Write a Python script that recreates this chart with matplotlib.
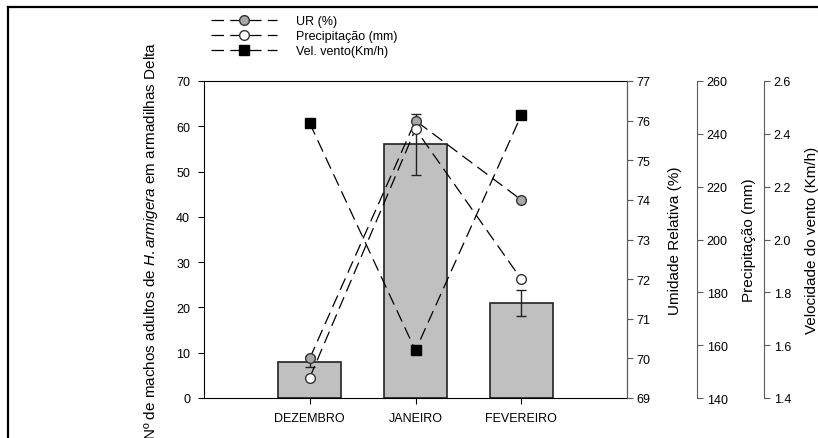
import matplotlib
matplotlib.use("Agg")
import matplotlib.pyplot as plt
from matplotlib.lines import Line2D
import numpy as np

plt.rcParams['font.family'] = ['Liberation Sans', 'DejaVu Sans']
plt.rcParams['mathtext.fontset'] = 'custom'
plt.rcParams['mathtext.it'] = 'Liberation Sans:italic'
plt.rcParams['mathtext.rm'] = 'Liberation Sans'
plt.rcParams['font.size'] = 9

meses = ["DEZEMBRO", "JANEIRO", "FEVEREIRO"]
machos = [8, 56, 21]
machos_err = [1.2, 6.7, 2.8]
ur = [70.0, 76.0, 74.0]
precip = [147.7, 241.8, 185.0]
vento = [2.44, 1.58, 2.47]

x = np.arange(1, len(meses) + 1)
spine_gray = "#5a5a5a"
dash = (0, (10, 5))

fig = plt.figure(figsize=(8.18, 4.39), dpi=100)
ax = fig.add_axes([204/818, 1 - 399/439, 423/818, 317/439])

ax.bar(x, machos, width=0.6, color="#c0c0c0", edgecolor="#222222", linewidth=1.2, zorder=2)
ax.errorbar(x, machos, yerr=machos_err, fmt="none", ecolor="#222222", elinewidth=1,
            capsize=3.5, capthick=1, zorder=6)
ax.set_xlim(0, 4)
ax.set_ylim(0, 70)
ax.set_yticks(range(0, 71, 10))
ax.set_xticks(x)
ax.set_xticklabels(meses)
ax.tick_params(axis="x", length=4, pad=6)
ax.tick_params(axis="y", length=4, pad=6)
ax.set_ylabel(r"Nº de machos adultos de $\it{H. armigera}$ em armadilhas Delta", fontsize=11)
ax.yaxis.set_label_coords(-0.104, 0.5)
ax.spines["right"].set_color(spine_gray)

ax_ur = ax.twinx()
ax_ur.plot(x, ur, linestyle=dash, color="black", linewidth=0.9, marker="o",
           markersize=7, markerfacecolor="#a8a8a8", markeredgecolor="#333333", zorder=5)
ax_ur.set_ylim(69, 77)
ax_ur.set_yticks(range(69, 78))
ax_ur.spines["right"].set_color(spine_gray)
ax_ur.tick_params(axis="y", length=4, pad=3, color=spine_gray)
ax_ur.set_ylabel("Umidade Relativa (%)", fontsize=11)
ax_ur.yaxis.set_label_coords(1.097, 0.5)

ax_pr = ax.twinx()
ax_pr.spines["right"].set_position(("axes", 1 + 70/423))
ax_pr.plot(x, precip, linestyle=dash, color="black", linewidth=0.9, marker="o",
           markersize=7, markerfacecolor="white", markeredgecolor="#333333", zorder=5)
ax_pr.set_ylim(140, 260)
ax_pr.set_yticks(range(140, 261, 20))
ax_pr.spines["right"].set_color(spine_gray)
ax_pr.tick_params(axis="y", length=4, pad=3, color=spine_gray)
ax_pr.set_ylabel("Precipitação (mm)", fontsize=11)
ax_pr.yaxis.set_label_coords(1.272, 0.5)

ax_v = ax.twinx()
ax_v.spines["right"].set_position(("axes", 1 + 137/423))
ax_v.plot(x, vento, linestyle=dash, color="black", linewidth=0.9, marker="s",
          markersize=7, markerfacecolor="black", markeredgecolor="black", zorder=5)
ax_v.set_ylim(1.4, 2.6)
ax_v.set_yticks(np.round(np.arange(1.4, 2.61, 0.2), 1))
ax_v.set_yticklabels([f"{v:.1f}" for v in np.arange(1.4, 2.61, 0.2)])
ax_v.spines["right"].set_color(spine_gray)
ax_v.tick_params(axis="y", length=4, pad=3, color=spine_gray)
ax_v.set_ylabel("Velocidade do vento (Km/h)", fontsize=11)
ax_v.yaxis.set_label_coords(1.421, 0.5)

for a in (ax_ur, ax_pr, ax_v):
    for s in ("top", "bottom", "left"):
        a.spines[s].set_visible(False)

handles = [
    Line2D([], [], linestyle=dash, color="black", linewidth=0.9, marker="o", markersize=7,
           markerfacecolor="#a8a8a8", markeredgecolor="#333333"),
    Line2D([], [], linestyle=dash, color="black", linewidth=0.9, marker="o", markersize=7,
           markerfacecolor="white", markeredgecolor="#333333"),
    Line2D([], [], linestyle=dash, color="black", linewidth=0.9, marker="s", markersize=7,
           markerfacecolor="black", markeredgecolor="black"),
]
labels = ["UR (%)", "Precipitação (mm)", "Vel. vento(Km/h)"]
fig.legend(handles, labels, loc="upper left", bbox_to_anchor=(206/818, 1 - 11/439),
           frameon=False, handlelength=5.3, handletextpad=1.5, labelspacing=0.25,
           borderaxespad=0, fontsize=9)

# moldura cortada
fig.add_artist(Line2D([7.5/818, 1], [1 - 7.5/439, 1 - 7.5/439], color="black", linewidth=1.6,
                      transform=fig.transFigure))
fig.add_artist(Line2D([7.5/818, 7.5/818], [0, 1 - 7.5/439], color="black", linewidth=1.6,
                      transform=fig.transFigure))

fig.savefig("out.png", dpi=100)
